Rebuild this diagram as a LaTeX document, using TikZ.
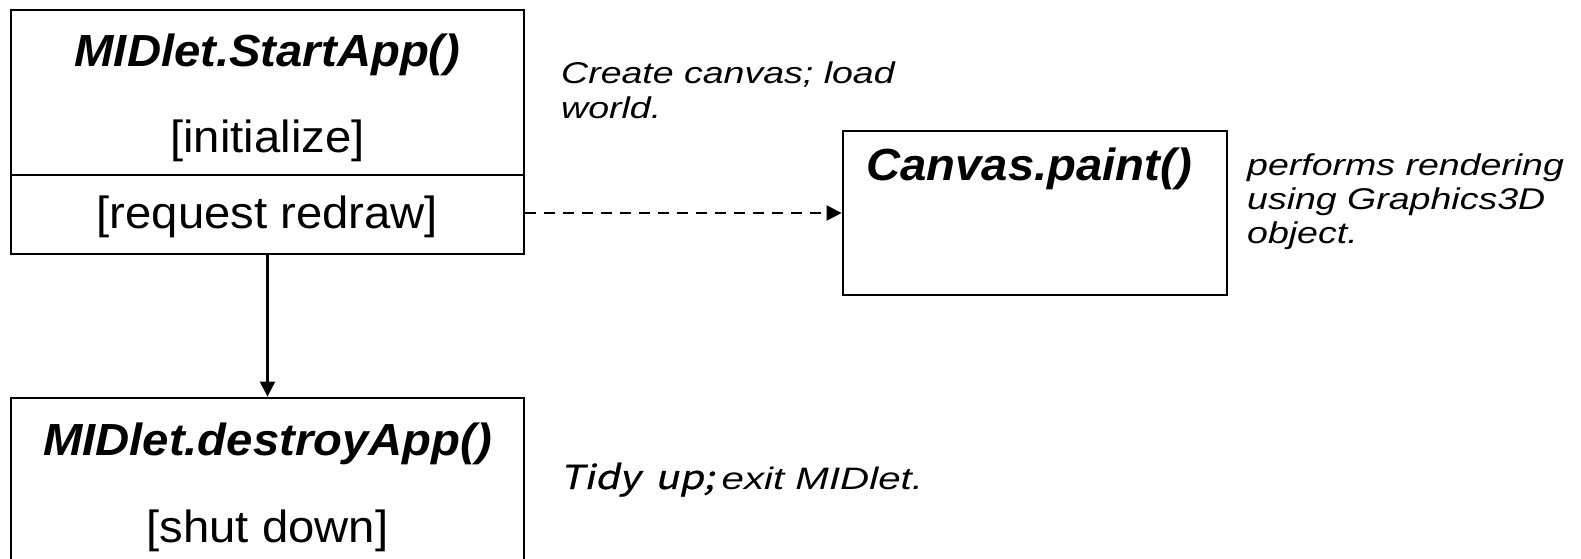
\documentclass[tikz,border=0pt]{standalone}
\usepackage{fontspec}
\setmainfont{Liberation Sans}
\newfontfamily\boxfont{Liberation Sans}[FakeStretch=1.05]
\newfontfamily\notefont{Liberation Sans}[FakeStretch=1.25]
\newfontfamily\widenotefont{Liberation Sans}[FakeStretch=1.3]
\newfontfamily\cjkfont{Noto Sans CJK SC}[FakeSlant=0.22, FakeStretch=1.2, FakeBold=0.7]
\usetikzlibrary{arrows.meta}

\tikzset{
  box/.style={draw, rectangle, line width=2.8pt, inner sep=0pt},
  boxtext/.style={inner sep=0pt, anchor=base,
    font=\boxfont\fontsize{45}{54}\selectfont},
  boxtitle/.style={inner sep=0pt, anchor=base,
    font=\boxfont\fontsize{45}{54}\selectfont\bfseries\itshape},
  note/.style={inner sep=0pt, anchor=base west,
    font=\notefont\fontsize{30}{34}\selectfont\itshape},
  widenote/.style={inner sep=0pt, anchor=base west,
    font=\widenotefont\fontsize{31}{36}\selectfont\itshape},
  flow/.style={-{Triangle[length=15pt,width=15pt]}, line width=2.2pt},
  callflow/.style={flow, dash pattern=on 11pt off 8pt},
}

\begin{document}
\begin{tikzpicture}[x=1pt, y=-1pt]
  \useasboundingbox (0,0) rectangle (1581,559);

  % MIDlet start box with its divider
  \node[box, minimum width=513pt, minimum height=244pt] (start) at (267.5,132) {};
  \coordinate (divL) at (11,175);
  \coordinate (divR) at (524,175);
  \draw[line width=2.8pt] (divL) -- (divR);
  \node[boxtitle] (startT) at (267.5,67) {MIDlet.StartApp()};
  \node[boxtext] (init) at (267.5,153) {[initialize]};
  \node[boxtext] (redraw) at (267.5,228) {[request redraw]};

  % MIDlet destroy box (runs past the lower edge)
  \node[box, minimum width=513pt, minimum height=202pt] (destroy) at (267.5,499) {};
  \node[boxtitle] (destroyT) at (267.5,455) {MIDlet.destroyApp()};
  \node[boxtext] (shut) at (267.5,542) {[shut down]};

  % Canvas box
  \node[box, minimum width=384pt, minimum height=164pt] (canvas) at (1035,213) {};
  \node[boxtitle] (paintT) at (1029,180) {Canvas.paint()};

  % Notes
  \node[note] (n1a) at (561,84) {Create canvas; load};
  \node[note] (n1b) at (561,118) {world.};
  \node[note] (n2a) at (1247,175) {performs rendering};
  \node[note] (n2b) at (1247,209) {using Graphics3D};
  \node[note] (n2c) at (1247,243) {object.};
  \node[widenote] (n3) at (560,489)
    {{\cjkfont\fontsize{33}{36}\selectfont Tidy\hspace{15pt}up;}\hspace{7pt}exit MIDlet.};

  % Connectors
  \draw[callflow] (canvas.west -| start.east) -- (canvas.west);
  \draw[flow] (start.south) -- (destroy.north);
\end{tikzpicture}
\end{document}
